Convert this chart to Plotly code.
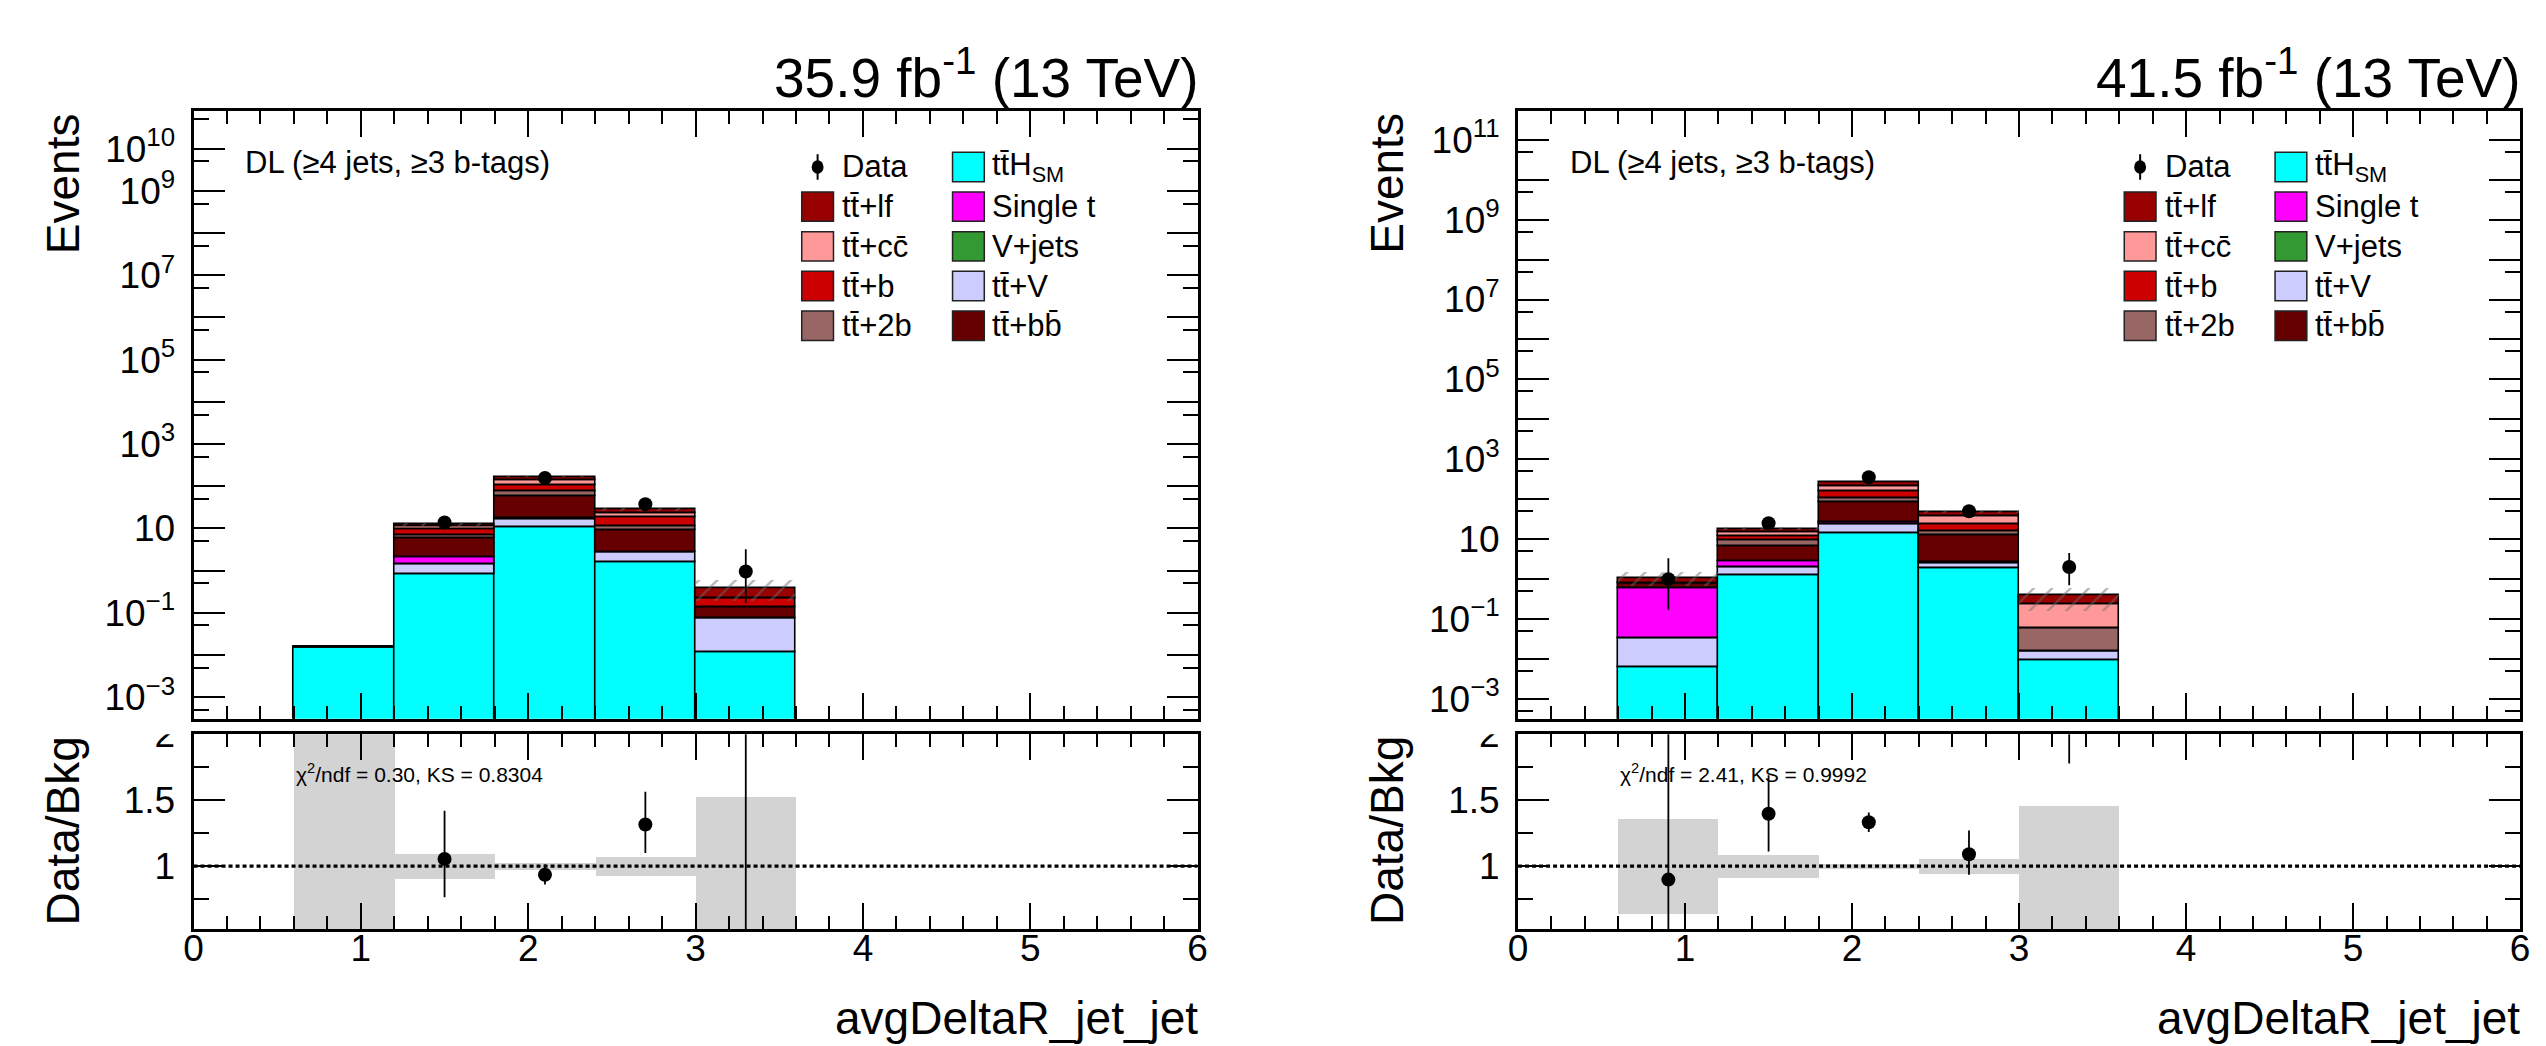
import numpy as np
import plotly.graph_objects as go

W, H = 2546, 1046
FONT = "Liberation Sans, Arial, Helvetica, sans-serif"

# avgDeltaR_jet_jet binning
bin_centers = [0.9, 1.5, 2.1, 2.7, 3.3]
bin_width = 0.6

# ---- 2016: 35.9 fb-1 -------------------------------------------------------
ttH_16 = [0.0151, 0.843, 10.6, 1.58, 0.0119]
ttV_16 = [0.0, 0.547, 6.0, 1.11, 0.064]
vjets_16 = [0.0, 0.0, 0.0, 0.0, 0.0]
singlet_16 = [0.0, 0.67, 1.2, 0.09, 0.0]
ttbb_16 = [0.0, 3.72, 42.0, 6.09, 0.063]
tt2b_16 = [0.0, 1.27, 15.2, 2.33, 0.0]
ttb_16 = [0.0, 2.65, 34.0, 6.9, 0.082]
ttcc_16 = [0.0, 1.5, 32.0, 4.8, 0.0]
ttlf_16 = [0.0, 1.5, 27.0, 5.4, 0.172]
# relative background uncertainty (up / down)
unc_up_16 = [1.5, 0.088, 0.025, 0.068, 0.52]
unc_dn_16 = [1.5, 0.10, 0.035, 0.075, 0.52]

data_x_16 = [1.5, 2.1, 2.7, 3.3]
data_16 = [13.8, 157.0, 37.6, 0.955]
data_up_16 = [3.7, 12.5, 6.1, 2.25]
data_dn_16 = [3.7, 12.5, 6.1, 0.785]
ratio_16 = [1.055, 0.935, 1.316, 2.6]
ratio_up_16 = [0.365, 0.078, 0.249, 5.0]
ratio_dn_16 = [0.292, 0.075, 0.216, 2.5]
stat_text_16 = "χ<sup>2</sup>/ndf = 0.30, KS = 0.8304"

# ---- 2017: 41.5 fb-1 -------------------------------------------------------
ttH_17 = [0.00634, 1.24, 13.8, 1.88, 0.0094]
ttV_17 = [0.027, 0.75, 9.6, 0.56, 0.0066]
vjets_17 = [0.0, 0.0, 0.0, 0.0, 0.0]
singlet_17 = [0.55, 0.85, 3.3, 0.2, 0.0]
ttbb_17 = [0.19, 3.66, 56.1, 9.76, 0.0]
tt2b_17 = [0.0, 2.64, 21.2, 3.1, 0.0426]
ttb_17 = [0.0, 2.96, 59.0, 7.9, 0.0]
ttcc_17 = [0.0, 2.8, 45.0, 13.4, 0.181]
ttlf_17 = [0.295, 3.1, 59.0, 10.3, 0.16]
unc_up_17 = [0.356, 0.08, 0.017, 0.05, 0.453]
unc_dn_17 = [0.363, 0.09, 0.028, 0.06, 0.6]

data_x_17 = [0.9, 1.5, 2.1, 2.7, 3.3]
data_17 = [0.99, 24.8, 353.0, 49.8, 1.99]
data_up_17 = [2.31, 5.0, 18.8, 7.1, 2.48]
data_dn_17 = [0.82, 5.0, 18.8, 7.1, 1.29]
ratio_17 = [0.898, 1.398, 1.333, 1.09, 5.1]
ratio_up_17 = [3.0, 0.292, 0.075, 0.18, 5.0]
ratio_dn_17 = [3.0, 0.286, 0.074, 0.155, 3.32]
stat_text_17 = "χ<sup>2</sup>/ndf = 2.41, KS = 0.9992"

TT = "tt\u0304"
# stack order, bottom -> top
layer_names = ["ttH", "ttV", "Vjets", "singlet", "ttbb", "tt2b", "ttb", "ttcc", "ttlf"]
colors = {
    "ttH": "#00ffff", "ttV": "#ccccff", "Vjets": "#339933", "singlet": "#ff00ff",
    "ttbb": "#660000", "tt2b": "#996666", "ttb": "#cc0000", "ttcc": "#ff9999",
    "ttlf": "#990000",
}
legend_col1 = [("ttlf", TT + "+lf"), ("ttcc", TT + "+cc\u0304"), ("ttb", TT + "+b"), ("tt2b", TT + "+2b")]
legend_col2 = [("ttH", TT + "H<sub>SM</sub>"), ("singlet", "Single t"), ("Vjets", "V+jets"),
               ("ttV", TT + "+V"), ("ttbb", TT + "+bb\u0304")]

panels = [
    dict(lumi="35.9", left=185, right=1197, yrange=[-3.51, 10.89], labelled=[-3, -1, 1, 3, 5, 7, 9, 10],
         layers=[ttH_16, ttV_16, vjets_16, singlet_16, ttbb_16, tt2b_16, ttb_16, ttcc_16, ttlf_16],
         uup=unc_up_16, udn=unc_dn_16, dx=data_x_16, d=data_16, dup=data_up_16, ddn=data_dn_16,
         r=ratio_16, rup=ratio_up_16, rdn=ratio_dn_16, stat=stat_text_16),
    dict(lumi="41.5", left=1520, right=2530, yrange=[-3.50, 11.72], labelled=[-3, -1, 1, 3, 5, 7, 9, 11],
         layers=[ttH_17, ttV_17, vjets_17, singlet_17, ttbb_17, tt2b_17, ttb_17, ttcc_17, ttlf_17],
         uup=unc_up_17, udn=unc_dn_17, dx=data_x_17, d=data_17, dup=data_up_17, ddn=data_dn_17,
         r=ratio_17, rup=ratio_up_17, rdn=ratio_dn_17, stat=stat_text_17),
]

UP_TOP, UP_BOT = 93, 713
LO_TOP, LO_BOT = 729, 928


def px(x):
    return x / W


def py(y):
    return 1 - y / H


def pow10_label(e):
    if e == 0:
        return "1"
    if e == 1:
        return "10"
    return "10<sup>%s</sup>" % str(e).replace("-", "\u2212")


fig = go.Figure()
layout = dict(
    width=W, height=H, margin=dict(l=0, r=0, t=0, b=0),
    paper_bgcolor="white", plot_bgcolor="white",
    showlegend=False, barmode="overlay", bargap=0,
    font=dict(family=FONT, color="black"),
)
annotations = []
shapes = []

tick_font = dict(family=FONT, size=37, color="black")
x_minor = [round(i * 0.2, 1) for i in range(31) if i % 5]

for k, p in enumerate(panels):
    up_x = "x" if k == 0 else "x%d" % (2 * k + 1)
    up_y = "y" if k == 0 else "y%d" % (2 * k + 1)
    lo_x, lo_y = "x%d" % (2 * k + 2), "y%d" % (2 * k + 2)
    xdom = [px(p["left"]), px(p["right"])]

    # stacked histogram
    layers = np.array(p["layers"], dtype=float)
    cum = np.cumsum(layers, axis=0)
    for i, name in enumerate(layer_names):
        base = None if i == 0 else cum[i - 1]
        fig.add_trace(go.Bar(
            x=bin_centers, y=layers[i], base=base, width=bin_width,
            marker=dict(color=colors[name], line=dict(color="black", width=1.6)),
            xaxis=up_x, yaxis=up_y, hoverinfo="skip"))

    total = cum[-1]
    bkg = total - layers[0]
    uup = np.array(p["uup"])
    udn = np.array(p["udn"])
    mask = (bkg > 0) & (udn < 1)
    hx = [c for c, m in zip(bin_centers, mask) if m]
    fig.add_trace(go.Bar(
        x=hx, y=(total * (uup + udn))[mask], base=(total * (1 - udn))[mask], width=bin_width,
        marker=dict(color="rgba(0,0,0,0)", line=dict(width=0),
                    pattern=dict(shape="/", fgcolor="#6a6a6a", bgcolor="rgba(0,0,0,0)",
                                 size=13, solidity=0.18)),
        xaxis=up_x, yaxis=up_y, hoverinfo="skip"))

    # data
    fig.add_trace(go.Scatter(
        x=p["dx"], y=p["d"], mode="markers",
        marker=dict(color="black", size=14, symbol="circle"),
        error_y=dict(type="data", array=p["dup"], arrayminus=p["ddn"], color="black",
                     thickness=1.8, width=0),
        xaxis=up_x, yaxis=up_y, hoverinfo="skip"))

    # ratio panel: uncertainty band, unity line, data/bkg
    fig.add_trace(go.Bar(
        x=bin_centers, y=uup + udn, base=1 - udn, width=bin_width,
        marker=dict(color="#d3d3d3", line=dict(width=0)),
        xaxis=lo_x, yaxis=lo_y, hoverinfo="skip"))
    fig.add_trace(go.Scatter(
        x=[0, 6], y=[1, 1], mode="lines", line=dict(color="black", width=3.2, dash="4px,3px"),
        xaxis=lo_x, yaxis=lo_y, hoverinfo="skip"))
    fig.add_trace(go.Scatter(
        x=p["dx"], y=p["r"], mode="markers",
        marker=dict(color="black", size=14, symbol="circle"),
        error_y=dict(type="data", array=p["rup"], arrayminus=p["rdn"], color="black",
                     thickness=1.8, width=0),
        xaxis=lo_x, yaxis=lo_y, hoverinfo="skip"))

    # axes
    common_x = dict(range=[0, 6], tickmode="array", tickvals=[0, 1, 2, 3, 4, 5, 6],
                    ticks="inside", ticklen=26, tickwidth=2, tickcolor="black",
                    showline=True, linecolor="black", linewidth=3, mirror="allticks",
                    showgrid=False, zeroline=False, tickfont=tick_font,
                    minor=dict(tickvals=x_minor, ticks="inside", ticklen=13, tickwidth=2,
                               tickcolor="black", showgrid=False))
    decades = list(range(-3, int(np.floor(p["yrange"][1])) + 1))
    up_name_x = "xaxis" if k == 0 else "xaxis%d" % (2 * k + 1)
    up_name_y = "yaxis" if k == 0 else "yaxis%d" % (2 * k + 1)
    lo_name_x = "xaxis%d" % (2 * k + 2)
    lo_name_y = "yaxis%d" % (2 * k + 2)

    layout[up_name_x] = dict(common_x, domain=xdom, anchor=up_y, showticklabels=False)
    layout[lo_name_x] = dict(common_x, domain=xdom, anchor=lo_y, showticklabels=True,
                             ticklabelstandoff=-16)
    layout[up_name_y] = dict(
        domain=[py(UP_BOT), py(UP_TOP)], anchor=up_x, type="log", range=p["yrange"],
        tickmode="array", tickvals=[10.0 ** e for e in decades],
        ticktext=[pow10_label(e) if e in p["labelled"] else "" for e in decades],
        ticks="inside", ticklen=31, tickwidth=2, tickcolor="black",
        showline=True, linecolor="black", linewidth=3, mirror="allticks",
        showgrid=False, zeroline=False, tickfont=tick_font, ticklabelstandoff=8,
        minor=dict(tickvals=[5 * 10.0 ** e for e in range(-4, 12)], ticks="inside",
                   ticklen=15, tickwidth=2, tickcolor="black", showgrid=False))
    layout[lo_name_y] = dict(
        domain=[py(LO_BOT), py(LO_TOP)], anchor=lo_x, range=[0.52, 2.001],
        tickmode="array", tickvals=[1, 1.5, 2], ticktext=["1", "1.5", "2"],
        ticks="inside", ticklen=31, tickwidth=2, tickcolor="black",
        showline=True, linecolor="black", linewidth=3, mirror="allticks",
        showgrid=False, zeroline=False, tickfont=tick_font, ticklabelstandoff=8,
        minor=dict(tickvals=[0.75, 1.25, 1.75], ticks="inside", ticklen=15, tickwidth=2,
                   tickcolor="black", showgrid=False))

    L, R = p["left"], p["right"]
    # the upper pad hides the top of the ratio axis' "2" label
    shapes.append(dict(type="rect", xref="paper", yref="paper", layer="above",
                       x0=px(L - 90), x1=px(L - 3), y0=py(729), y1=py(714),
                       fillcolor="white", line=dict(width=0)))

    # texts
    annotations.append(dict(text="%s fb<sup>-1</sup> (13 TeV)" % p["lumi"], xref="paper", yref="paper",
                            x=px(R + 3), y=py(55), xanchor="right", yanchor="middle",
                            showarrow=False, font=dict(family=FONT, size=55, color="black")))
    annotations.append(dict(text="avgDeltaR_jet_jet", xref="paper", yref="paper",
                            x=px(R + 2), y=py(1018), xanchor="right", yanchor="middle",
                            showarrow=False, font=dict(family=FONT, size=46, color="black")))
    annotations.append(dict(text="Events", xref="paper", yref="paper", textangle=-90,
                            x=px(L - 132), y=py(UP_TOP), xanchor="center", yanchor="top",
                            showarrow=False, font=dict(family=FONT, size=46, color="black")))
    annotations.append(dict(text="Data/Bkg", xref="paper", yref="paper", textangle=-90,
                            x=px(L - 132), y=py(LO_TOP), xanchor="center", yanchor="top",
                            showarrow=False, font=dict(family=FONT, size=46, color="black")))
    annotations.append(dict(text="DL (\u22654 jets, \u22653 b-tags)", xref="paper", yref="paper",
                            x=px(L + 50), y=py(145), xanchor="left", yanchor="middle",
                            showarrow=False, font=dict(family=FONT, size=31, color="black")))
    annotations.append(dict(text=p["stat"], xref=lo_x, yref="paper",
                            x=0.6, y=py(768), xanchor="left", yanchor="middle",
                            showarrow=False, font=dict(family=FONT, size=21, color="black")))

    # legend
    rows = [150, 190.5, 231, 271.5, 312]
    c1_box, c1_txt = R - 399, R - 360
    c2_box, c2_txt = R - 247, R - 209
    mx = c1_box + 16
    shapes.append(dict(type="line", xref="paper", yref="paper", layer="above",
                       x0=px(mx), x1=px(mx), y0=py(rows[0] - 13), y1=py(rows[0] + 13),
                       line=dict(color="black", width=2)))
    shapes.append(dict(type="circle", xref="paper", yref="paper", layer="above",
                       x0=px(mx - 6), x1=px(mx + 6), y0=py(rows[0] - 7), y1=py(rows[0] + 7),
                       fillcolor="black", line=dict(color="black", width=0)))
    annotations.append(dict(text="Data", xref="paper", yref="paper", x=px(c1_txt), y=py(rows[0]),
                            xanchor="left", yanchor="middle", showarrow=False,
                            font=dict(family=FONT, size=31, color="black")))
    entries = [(c1_box, c1_txt, rows[1 + j], key, lab) for j, (key, lab) in enumerate(legend_col1)]
    entries += [(c2_box, c2_txt, rows[j], key, lab) for j, (key, lab) in enumerate(legend_col2)]
    for bx, tx, yy, key, lab in entries:
        shapes.append(dict(type="rect", xref="paper", yref="paper", layer="above",
                           x0=px(bx), x1=px(bx + 32), y0=py(yy + 15), y1=py(yy - 15),
                           fillcolor=colors[key], line=dict(color="#222222", width=1.5)))
        annotations.append(dict(text=lab, xref="paper", yref="paper", x=px(tx), y=py(yy),
                                xanchor="left", yanchor="middle", showarrow=False,
                                font=dict(family=FONT, size=31, color="black")))

layout["annotations"] = annotations
layout["shapes"] = shapes
fig.update_layout(**layout)
fig.write_html("out.html")
